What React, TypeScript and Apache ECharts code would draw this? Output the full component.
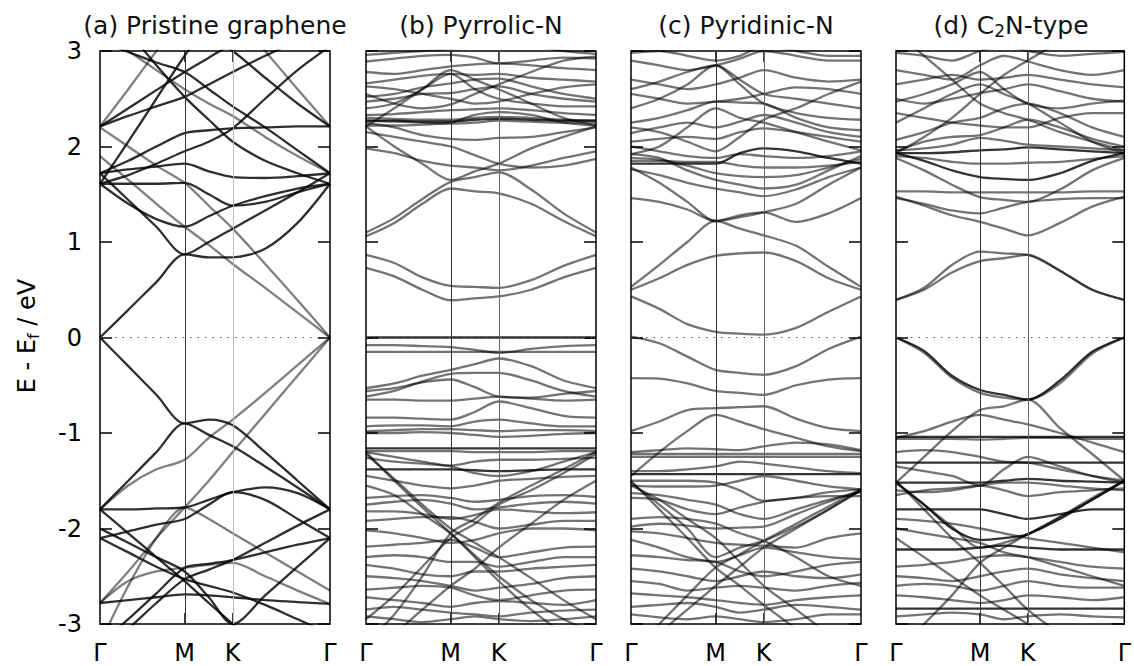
import React, { useEffect, useRef } from "react";
import * as echarts from "echarts";

// k-path sample positions (fraction of Γ-M-K-Γ path length)
const K_POS = [0, 0.123, 0.245, 0.368, 0.473, 0.577, 0.718, 0.859, 1];
const SYM_POS = [0, 0.368, 0.577, 1];
const SYM_LABELS = ["Γ", "M", "K", "Γ"];
const Y_TICKS = [-3, -2, -1, 0, 1, 2, 3];
const TITLES = [
  "{n|(a) Pristine graphene}",
  "{n|(b) Pyrrolic-N}",
  "{n|(c) Pyridinic-N}",
  "{n|(d) C}{s|2}{n|N-type}",
];

// ---------- (a) Pristine graphene ----------
const aDark: number[][] = [
  [0, 0.29, 0.58, 0.87, 0.84, 0.84, 0.93, 1.2, 1.61],
  [1.72, 1.44, 1.16, 0.87, 1.0, 1.14, 1.33, 1.52, 1.72],
  [1.61, 1.4, 1.24, 1.16, 1.27, 1.38, 1.48, 1.56, 1.61],
  [1.61, 1.61, 1.61, 1.62, 1.5, 1.38, 1.42, 1.52, 1.61],
  [1.72, 1.76, 1.79, 1.82, 1.74, 1.68, 1.67, 1.69, 1.72],
  [1.72, 1.85, 2.0, 2.14, 2.17, 2.19, 2.2, 2.21, 2.21],
  [2.21, 2.4, 2.59, 2.78, 2.93, 3.08, 3.3, 3.5, 3.7],
  [3.1, 2.99, 2.88, 2.78, 2.6, 2.42, 2.2, 1.96, 1.72],
  [3.5, 3.2, 2.85, 2.52, 2.28, 2.05, 1.85, 1.72, 1.61],
  [1.61, 2.05, 2.5, 2.95, 3.3, 3.6, 4.0, 4.4, 4.8],
  [3.9, 3.7, 3.5, 3.3, 3.15, 3.0, 2.72, 2.45, 2.21],
  [2.21, 2.32, 2.42, 2.52, 2.65, 2.78, 2.95, 3.1, 3.2],
  [1.61, 1.7, 1.82, 1.95, 2.05, 2.19, 2.5, 2.8, 3.05],
  [0, -0.3, -0.6, -0.9, -0.86, -0.92, -1.2, -1.5, -1.8],
  [-1.8, -1.5, -1.2, -0.9, -1.02, -1.14, -1.35, -1.57, -1.8],
  [-1.8, -1.8, -1.79, -1.78, -1.7, -1.62, -1.57, -1.63, -1.8],
  [-2.1, -2.03, -1.96, -1.9, -1.75, -1.62, -1.7, -1.9, -2.1],
  [-1.8, -2.05, -2.3, -2.55, -2.78, -3.0, -3.3, -3.6, -3.9],
  [-3.3, -3.05, -2.78, -2.53, -2.43, -2.33, -2.15, -1.97, -1.8],
  [-2.1, -2.25, -2.4, -2.53, -2.6, -2.67, -2.8, -2.95, -3.1],
  [-3.2, -2.95, -2.68, -2.41, -2.37, -2.33, -2.25, -2.17, -2.1],
  [-2.78, -2.75, -2.72, -2.69, -2.7, -2.72, -2.75, -2.77, -2.79],
  [-2.0, -2.15, -2.3, -2.45, -2.72, -3.0, -2.7, -2.4, -2.1],
];
const aGrey: number[][] = [
  [1.9, 1.65, 1.4, 1.16, 0.97, 0.77, 0.52, 0.26, 0],
  [2.2, 2.0, 1.8, 1.62, 1.38, 1.14, 0.77, 0.39, 0],
  [2.21, 2.6, 3.0, 3.4, 3.7, 4.0, 4.4, 4.8, 5.0],
  [4.5, 4.3, 4.1, 3.9, 3.6, 3.4, 3.0, 2.6, 2.21],
  [3.2, 3.0, 2.8, 2.6, 2.45, 2.32, 2.1, 1.9, 1.72],
  [-1.8, -1.55, -1.38, -1.28, -1.05, -0.86, -0.58, -0.29, 0],
  [-2.78, -2.45, -2.1, -1.78, -1.5, -1.2, -0.8, -0.4, 0],
  [-2.78, -2.55, -2.45, -2.41, -2.38, -2.36, -2.5, -2.65, -2.79],
  [-3.2, -2.6, -2.1, -1.78, -1.9, -2.05, -2.25, -2.45, -2.65],
];

// ---------- (b) Pyrrolic-N ----------
const bBands: number[][] = [
  [0.73, 0.64, 0.5, 0.39, 0.41, 0.43, 0.5, 0.63, 0.73],
  [0.865, 0.78, 0.63, 0.54, 0.53, 0.52, 0.6, 0.75, 0.865],
  [1.1, 1.25, 1.45, 1.63, 1.68, 1.73, 1.55, 1.3, 1.1],
  [1.06, 1.2, 1.4, 1.56, 1.53, 1.51, 1.4, 1.22, 1.06],
  [2.21, 2.0, 1.82, 1.65, 1.74, 1.82, 1.98, 2.1, 2.21],
  [2.15, 2.1, 2.05, 2.0, 1.91, 1.82, 1.78, 1.8, 1.87],
  [2.25, 2.2, 2.12, 2.08, 2.07, 2.09, 2.1, 2.15, 2.2],
  [1.98, 1.93, 1.85, 1.8, 1.78, 1.75, 1.8, 1.88, 1.95],
  [2.3, 2.29, 2.28, 2.28, 2.3, 2.31, 2.3, 2.28, 2.27],
  [2.27, 2.26, 2.25, 2.24, 2.25, 2.27, 2.26, 2.25, 2.25],
  [2.22, 2.22, 2.23, 2.25, 2.33, 2.36, 2.33, 2.25, 2.22],
  [2.33, 2.34, 2.36, 2.38, 2.39, 2.4, 2.38, 2.35, 2.33],
  [2.47, 2.5, 2.55, 2.56, 2.6, 2.63, 2.55, 2.5, 2.47],
  [2.52, 2.55, 2.62, 2.66, 2.7, 2.71, 2.63, 2.55, 2.5],
  [2.63, 2.6, 2.55, 2.5, 2.45, 2.47, 2.55, 2.62, 2.65],
  [2.66, 2.7, 2.74, 2.76, 2.75, 2.76, 2.72, 2.7, 2.68],
  [2.78, 2.76, 2.8, 2.84, 2.86, 2.87, 2.85, 2.82, 2.8],
  [2.89, 2.92, 2.95, 2.96, 2.93, 2.87, 2.9, 2.93, 2.92],
  [2.96, 2.98, 3.0, 3.02, 3.05, 3.1, 3.05, 3.0, 2.97],
  [2.4, 2.45, 2.6, 2.76, 2.6, 2.5, 2.45, 2.42, 2.42],
  [2.55, 2.45, 2.4, 2.44, 2.55, 2.65, 2.78, 2.9, 2.94],
  [2.21, 2.4, 2.6, 2.8, 2.7, 2.6, 2.45, 2.3, 2.22],
  [-0.08, -0.08, -0.09, -0.1, -0.13, -0.16, -0.12, -0.09, -0.08],
  [-0.15, -0.15, -0.15, -0.15, -0.15, -0.15, -0.15, -0.15, -0.15],
  [-0.53, -0.48, -0.4, -0.34, -0.28, -0.22, -0.3, -0.45, -0.53],
  [-0.56, -0.53, -0.47, -0.44, -0.52, -0.62, -0.63, -0.59, -0.56],
  [-0.62, -0.56, -0.46, -0.38, -0.37, -0.37, -0.45, -0.56, -0.62],
  [-0.65, -0.65, -0.66, -0.66, -0.64, -0.62, -0.64, -0.66, -0.65],
  [-0.84, -0.84, -0.85, -0.86, -0.78, -0.67, -0.74, -0.82, -0.84],
  [-0.93, -0.92, -0.92, -0.93, -0.88, -0.86, -0.9, -0.93, -0.93],
  [-0.98, -0.97, -0.96, -0.96, -0.97, -0.98, -0.97, -0.97, -0.98],
  [-1.0, -1.0, -0.99, -1.0, -1.02, -1.04, -1.03, -1.01, -1.0],
  [-1.19, -1.19, -1.19, -1.19, -1.2, -1.2, -1.2, -1.19, -1.19],
  [-1.2, -1.25, -1.3, -1.35, -1.42, -1.45, -1.4, -1.3, -1.2],
  [-1.2, -1.5, -1.78, -2.05, -2.28, -2.5, -2.75, -2.95, -3.1],
  [-3.2, -2.9, -2.5, -2.05, -1.9, -1.73, -1.55, -1.38, -1.2],
  [-1.22, -1.48, -1.75, -2.0, -2.15, -2.3, -2.52, -2.75, -2.95],
  [-2.95, -2.7, -2.4, -2.1, -1.95, -1.75, -1.6, -1.42, -1.22],
  [-1.68, -1.66, -1.65, -1.68, -1.72, -1.7, -1.66, -1.65, -1.67],
  [-1.75, -1.72, -1.7, -1.74, -1.8, -1.78, -1.74, -1.72, -1.74],
  [-1.82, -1.82, -1.85, -1.9, -1.86, -1.8, -1.82, -1.84, -1.83],
  [-1.92, -1.9, -1.88, -1.88, -1.93, -2.0, -1.96, -1.92, -1.92],
  [-2.02, -2.05, -2.1, -2.15, -2.12, -2.05, -2.0, -2.0, -2.02],
  [-2.19, -2.17, -2.15, -2.12, -2.2, -2.3, -2.25, -2.2, -2.19],
  [-2.3, -2.28, -2.3, -2.35, -2.35, -2.4, -2.35, -2.3, -2.3],
  [-2.38, -2.42, -2.48, -2.5, -2.45, -2.45, -2.42, -2.4, -2.38],
  [-2.5, -2.52, -2.55, -2.6, -2.65, -2.62, -2.58, -2.52, -2.5],
  [-2.64, -2.62, -2.6, -2.62, -2.7, -2.75, -2.7, -2.65, -2.64],
  [-2.72, -2.75, -2.78, -2.82, -2.78, -2.76, -2.78, -2.8, -2.75],
  [-2.85, -2.82, -2.85, -2.88, -2.9, -2.92, -2.88, -2.86, -2.85],
  [-2.92, -2.95, -2.98, -2.95, -2.92, -2.95, -2.97, -2.95, -2.92],
  [-1.55, -1.65, -1.85, -2.05, -2.3, -2.55, -2.85, -3.1, -3.3],
  [-3.3, -3.1, -2.85, -2.6, -2.42, -2.2, -1.95, -1.7, -1.5],
  [-1.26, -1.3, -1.32, -1.34, -1.3, -1.28, -1.28, -1.27, -1.26],
  [-1.45, -1.5, -1.55, -1.58, -1.55, -1.5, -1.48, -1.46, -1.45],
];
const bDark: number[][] = [
  [0, 0, 0, 0, 0, 0, 0, 0, 0],
  [-1.16, -1.16, -1.16, -1.16, -1.16, -1.16, -1.16, -1.16, -1.16],
  [-1.38, -1.38, -1.38, -1.38, -1.39, -1.4, -1.39, -1.38, -1.38],
  [2.27, 2.27, 2.26, 2.26, 2.28, 2.29, 2.28, 2.27, 2.27],
];

// ---------- (c) Pyridinic-N ----------
const cBands: number[][] = [
  [0.43, 0.3, 0.14, 0.06, 0.04, 0.03, 0.1, 0.27, 0.43],
  [0.5, 0.62, 0.76, 0.855, 0.88, 0.89, 0.8, 0.62, 0.5],
  [0.53, 0.76, 1.0, 1.22, 1.14, 1.07, 0.96, 0.74, 0.53],
  [1.46, 1.42, 1.34, 1.22, 1.28, 1.31, 1.21, 1.3, 1.46],
  [1.78, 1.62, 1.42, 1.22, 1.26, 1.31, 1.4, 1.6, 1.78],
  [1.85, 1.85, 1.84, 1.84, 1.8, 1.78, 1.78, 1.8, 1.84],
  [1.88, 1.86, 1.8, 1.72, 1.69, 1.68, 1.7, 1.78, 1.87],
  [1.92, 1.88, 1.75, 1.65, 1.6, 1.56, 1.6, 1.75, 1.9],
  [1.76, 1.7, 1.62, 1.56, 1.52, 1.48, 1.55, 1.68, 1.78],
  [2.0, 1.95, 1.9, 1.88, 1.92, 1.9, 1.88, 1.9, 1.95],
  [2.05, 2.08, 2.1, 2.08, 2.15, 2.19, 2.15, 2.1, 2.05],
  [2.14, 2.2, 2.25, 2.2, 2.26, 2.33, 2.25, 2.15, 2.1],
  [2.25, 2.3, 2.38, 2.47, 2.46, 2.45, 2.3, 2.2, 2.17],
  [2.4, 2.5, 2.65, 2.85, 2.65, 2.45, 2.35, 2.3, 2.28],
  [2.6, 2.68, 2.78, 2.85, 2.7, 2.55, 2.5, 2.45, 2.4],
  [2.55, 2.5, 2.45, 2.47, 2.5, 2.55, 2.62, 2.6, 2.55],
  [2.7, 2.65, 2.6, 2.65, 2.72, 2.8, 2.72, 2.68, 2.7],
  [2.9, 2.85, 2.8, 2.85, 2.92, 3.0, 2.95, 2.9, 2.9],
  [2.98, 3.0, 2.95, 2.9, 2.95, 3.05, 3.0, 2.95, 2.95],
  [1.92, 2.0, 2.2, 2.4, 2.3, 2.25, 2.15, 2.05, 1.96],
  [2.2, 2.15, 2.05, 1.95, 2.1, 2.28, 2.4, 2.55, 2.68],
  [0.01, -0.06, -0.2, -0.34, -0.37, -0.39, -0.3, -0.12, 0.01],
  [-0.425, -0.43, -0.48, -0.56, -0.58, -0.6, -0.5, -0.44, -0.425],
  [-0.98, -0.88, -0.76, -0.74, -0.73, -0.72, -0.85, -0.95, -0.98],
  [-1.45, -1.2, -0.98, -0.81, -0.88, -0.96, -1.05, -1.14, -1.19],
  [-1.22, -1.22, -1.22, -1.22, -1.22, -1.22, -1.22, -1.22, -1.22],
  [-1.25, -1.25, -1.25, -1.25, -1.25, -1.25, -1.25, -1.25, -1.25],
  [-1.2, -1.18, -1.16, -1.17, -1.18, -1.14, -1.1, -1.12, -1.18],
  [-1.5, -1.5, -1.5, -1.52, -1.6, -1.71, -1.68, -1.62, -1.59],
  [-1.55, -1.56, -1.56, -1.55, -1.5, -1.45, -1.5, -1.56, -1.59],
  [-1.5, -1.8, -2.1, -2.41, -2.6, -2.8, -3.05, -3.3, -3.5],
  [-3.3, -3.0, -2.7, -2.41, -2.27, -2.13, -1.95, -1.77, -1.59],
  [-1.52, -1.75, -2.0, -2.3, -2.2, -2.13, -1.98, -1.8, -1.6],
  [-1.98, -1.95, -1.97, -2.0, -1.99, -1.98, -1.85, -1.72, -1.6],
  [-2.03, -2.05, -2.1, -2.15, -2.17, -2.18, -2.2, -2.1, -2.05],
  [-2.12, -2.2, -2.3, -2.35, -2.28, -2.2, -2.25, -2.3, -2.32],
  [-2.28, -2.3, -2.33, -2.35, -2.45, -2.5, -2.45, -2.38, -2.35],
  [-2.42, -2.45, -2.5, -2.55, -2.5, -2.45, -2.5, -2.52, -2.48],
  [-2.55, -2.58, -2.65, -2.62, -2.6, -2.62, -2.65, -2.6, -2.57],
  [-2.68, -2.7, -2.72, -2.75, -2.78, -2.8, -2.75, -2.72, -2.7],
  [-2.82, -2.8, -2.78, -2.82, -2.88, -2.85, -2.8, -2.82, -2.85],
  [-2.9, -2.93, -2.95, -2.92, -2.95, -2.98, -2.95, -2.9, -2.9],
  [-1.63, -1.65, -1.7, -1.75, -1.85, -1.9, -1.8, -1.7, -1.62],
  [-1.68, -1.7, -1.8, -1.85, -1.78, -1.72, -1.68, -1.66, -1.66],
  [-1.55, -1.7, -1.9, -2.1, -2.35, -2.6, -2.85, -3.1, -3.3],
  [-3.4, -3.1, -2.85, -2.6, -2.4, -2.2, -2.0, -1.8, -1.6],
  [-1.9, -1.88, -1.9, -1.95, -2.05, -2.13, -2.3, -2.5, -2.6],
  [-1.4, -1.4, -1.38, -1.35, -1.3, -1.32, -1.36, -1.4, -1.42],
];
const cDark: number[][] = [
  [1.82, 1.82, 1.82, 1.82, 1.93, 1.98, 1.95, 1.88, 1.82],
  [-1.43, -1.43, -1.43, -1.43, -1.43, -1.43, -1.43, -1.43, -1.43],
];

// ---------- (d) C2N-type ----------
const dBands: number[][] = [
  [0.394, 0.52, 0.76, 0.9, 0.88, 0.865, 0.7, 0.5, 0.394],
  [0.394, 0.5, 0.68, 0.8, 0.83, 0.865, 0.7, 0.5, 0.394],
  [1.475, 1.38, 1.28, 1.21, 1.14, 1.07, 1.2, 1.37, 1.475],
  [1.46, 1.4, 1.33, 1.3, 1.36, 1.42, 1.45, 1.46, 1.46],
  [1.53, 1.53, 1.52, 1.52, 1.52, 1.52, 1.52, 1.53, 1.53],
  [1.88, 1.75, 1.6, 1.47, 1.44, 1.42, 1.55, 1.75, 1.88],
  [1.9, 1.88, 1.84, 1.82, 1.82, 1.83, 1.84, 1.87, 1.9],
  [1.96, 1.98, 2.02, 2.09, 2.06, 2.02, 2.0, 1.98, 1.96],
  [1.95, 2.05, 2.1, 2.12, 2.2, 2.28, 2.2, 2.08, 2.0],
  [2.07, 2.15, 2.25, 2.3, 2.4, 2.45, 2.35, 2.2, 2.1],
  [2.35, 2.3, 2.25, 2.22, 2.2, 2.2, 2.3, 2.35, 2.35],
  [2.47, 2.55, 2.65, 2.78, 2.6, 2.45, 2.4, 2.45, 2.48],
  [2.5, 2.45, 2.5, 2.56, 2.6, 2.65, 2.58, 2.5, 2.47],
  [2.65, 2.7, 2.75, 2.7, 2.72, 2.75, 2.7, 2.65, 2.62],
  [2.8, 2.75, 2.7, 2.85, 2.95, 2.89, 2.8, 2.75, 2.8],
  [2.98, 2.95, 2.9, 3.0, 3.05, 3.0, 2.95, 2.97, 2.99],
  [2.25, 2.4, 2.55, 2.65, 2.55, 2.45, 2.25, 2.05, 1.93],
  [1.93, 2.1, 2.3, 2.55, 2.75, 2.9, 3.1, 3.3, 3.4],
  [3.2, 2.95, 2.7, 2.45, 2.35, 2.28, 2.15, 2.05, 1.96],
  [0, -0.16, -0.42, -0.58, -0.63, -0.65, -0.48, -0.17, 0],
  [-1.52, -1.25, -0.98, -0.76, -0.72, -0.65, -0.95, -1.22, -1.5],
  [-1.05, -0.98, -0.88, -0.81, -0.86, -0.91, -1.0, -1.1, -1.2],
  [-1.06, -1.06, -1.06, -1.07, -1.06, -1.05, -1.05, -1.06, -1.06],
  [-1.52, -1.75, -1.98, -2.2, -2.15, -2.06, -1.88, -1.68, -1.5],
  [-1.6, -1.62, -1.6, -1.55, -1.52, -1.52, -1.55, -1.58, -1.6],
  [-1.65, -1.6, -1.58, -1.55, -1.6, -1.66, -1.62, -1.6, -1.58],
  [-1.35, -1.4, -1.45, -1.55, -1.38, -1.25, -1.35, -1.45, -1.52],
  [-1.2, -1.18, -1.2, -1.25, -1.3, -1.31, -1.38, -1.45, -1.5],
  [-1.5, -1.8, -2.1, -2.36, -2.6, -2.85, -3.1, -3.3, -3.5],
  [-3.3, -3.0, -2.7, -2.36, -2.2, -2.06, -1.88, -1.7, -1.5],
  [-2.4, -2.38, -2.35, -2.3, -2.28, -2.3, -2.35, -2.4, -2.42],
  [-2.5, -2.52, -2.55, -2.5, -2.45, -2.42, -2.48, -2.52, -2.55],
  [-2.6, -2.58, -2.6, -2.65, -2.6, -2.55, -2.6, -2.62, -2.62],
  [-2.7, -2.72, -2.75, -2.78, -2.75, -2.7, -2.72, -2.75, -2.72],
  [-2.92, -2.9, -2.88, -2.9, -2.95, -2.92, -2.9, -2.92, -2.93],
  [-1.9, -1.92, -1.95, -2.0, -2.05, -2.1, -2.15, -2.2, -2.25],
  [-2.1, -2.3, -2.5, -2.7, -2.85, -3.0, -3.2, -3.4, -3.6],
  [-2.0, -2.05, -2.1, -2.15, -2.25, -2.3, -2.4, -2.5, -2.6],
];
const dDark: number[][] = [
  [1.93, 1.85, 1.75, 1.68, 1.66, 1.65, 1.72, 1.85, 1.93],
  [1.93, 1.93, 1.94, 1.96, 1.97, 1.99, 1.97, 1.95, 1.93],
  [0, -0.14, -0.4, -0.55, -0.6, -0.65, -0.45, -0.15, 0],
  [-1.04, -1.04, -1.04, -1.04, -1.04, -1.04, -1.04, -1.04, -1.04],
  [-1.31, -1.31, -1.31, -1.31, -1.31, -1.31, -1.31, -1.31, -1.31],
  [-1.52, -1.52, -1.52, -1.52, -1.5, -1.48, -1.5, -1.51, -1.52],
  [-1.8, -1.8, -1.8, -1.8, -1.85, -1.9, -1.85, -1.8, -1.8],
  [-1.52, -1.75, -2.0, -2.12, -2.1, -2.06, -1.9, -1.7, -1.5],
  [-2.22, -2.22, -2.22, -2.2, -2.18, -2.2, -2.22, -2.22, -2.22],
  [-2.84, -2.84, -2.84, -2.84, -2.84, -2.84, -2.84, -2.84, -2.84],
];

const PANELS = [
  { light: aGrey, dark: aDark, lightColor: "rgba(0,0,0,0.5)", darkColor: "rgba(0,0,0,0.82)", kLine: "#bbbbbb" },
  { light: bBands, dark: bDark, lightColor: "rgba(0,0,0,0.55)", darkColor: "rgba(0,0,0,0.8)", kLine: "#666666" },
  { light: cBands, dark: cDark, lightColor: "rgba(0,0,0,0.55)", darkColor: "rgba(0,0,0,0.8)", kLine: "#666666" },
  { light: dBands, dark: dDark, lightColor: "rgba(0,0,0,0.55)", darkColor: "rgba(0,0,0,0.8)", kLine: "#666666" },
];

const FONT = "DejaVu Sans";
const GRID_LEFT = [100, 366, 631, 896];
const GRID_W = 230;
const GRID_TOP = 51;
const GRID_H = 573;

function labelFor(v: number): string {
  let best = 0;
  SYM_POS.forEach((p, i) => {
    if (Math.abs(p - v) < Math.abs(SYM_POS[best] - v)) best = i;
  });
  return SYM_LABELS[best];
}

export default function App() {
  const ref = useRef<HTMLDivElement>(null);
  useEffect(() => {
    if (!ref.current) return;
    const chart = echarts.init(ref.current, null, { renderer: "svg" });
    const grids: any[] = [];
    const xAxes: any[] = [];
    const yAxes: any[] = [];
    const series: any[] = [];
    const graphics: any[] = [];

    PANELS.forEach((p, i) => {
      grids.push({
        left: GRID_LEFT[i],
        top: GRID_TOP,
        width: GRID_W,
        height: GRID_H,
        show: true,
        borderColor: "#000",
        borderWidth: 1.5,
        backgroundColor: "transparent",
      });
      const tickX = {
        show: true,
        inside: true,
        length: 11,
        customValues: [SYM_POS[1], SYM_POS[2]],
        lineStyle: { color: "#000", width: 1.5 },
      };
      xAxes.push({
        type: "value",
        gridIndex: i,
        min: 0,
        max: 1,
        position: "bottom",
        axisLine: { show: false, onZero: false },
        axisTick: tickX,
        splitLine: { show: false },
        axisLabel: {
          show: true,
          customValues: SYM_POS,
          showMinLabel: true,
          showMaxLabel: true,
          formatter: (v: number) => labelFor(v),
          fontSize: 24,
          fontFamily: FONT,
          color: "#000",
          margin: 17,
        },
      });
      xAxes.push({
        type: "value",
        gridIndex: i,
        min: 0,
        max: 1,
        position: "top",
        axisLine: { show: false, onZero: false },
        axisTick: tickX,
        splitLine: { show: false },
        axisLabel: { show: false },
      });
      const tickY = { show: true, inside: true, length: 12, lineStyle: { color: "#000", width: 1.5 } };
      yAxes.push({
        type: "value",
        gridIndex: i,
        min: Y_TICKS[0],
        max: Y_TICKS[Y_TICKS.length - 1],
        interval: 1,
        position: "left",
        axisLine: { show: false, onZero: false },
        axisTick: tickY,
        splitLine: { show: false },
        axisLabel: {
          show: i === 0,
          fontSize: 24,
          fontFamily: FONT,
          color: "#000",
          margin: 18,
        },
      });
      yAxes.push({
        type: "value",
        gridIndex: i,
        min: Y_TICKS[0],
        max: Y_TICKS[Y_TICKS.length - 1],
        interval: 1,
        position: "right",
        axisLine: { show: false, onZero: false },
        axisTick: tickY,
        splitLine: { show: false },
        axisLabel: { show: false },
      });

      // reference lines (Fermi level, M and K)
      series.push({
        type: "line",
        xAxisIndex: 2 * i,
        yAxisIndex: 2 * i,
        data: [[0, 0], [1, 0]],
        symbol: "none",
        lineStyle: { width: 0, opacity: 0 },
        silent: true,
        z: 1,
        markLine: {
          silent: true,
          symbol: ["none", "none"],
          label: { show: false },
          animation: false,
          data: [
            { xAxis: SYM_POS[1], lineStyle: { color: "#333", width: 1, type: "solid" } },
            { xAxis: SYM_POS[2], lineStyle: { color: p.kLine, width: 1, type: "solid" } },
            { yAxis: 0, lineStyle: { color: "#555", width: 1, type: [1.5, 6] } },
          ],
        },
      });

      const addBands = (list: number[][], color: string) => {
        list.forEach((band) => {
          series.push({
            type: "line",
            xAxisIndex: 2 * i,
            yAxisIndex: 2 * i,
            data: K_POS.map((k, j) => [k, band[j]]),
            smooth: 0.3,
            symbol: "none",
            clip: true,
            silent: true,
            lineStyle: { color, width: 2.3 },
            z: 3,
          });
        });
      };
      addBands(p.light, p.lightColor);
      addBands(p.dark, p.darkColor);

      graphics.push({
        type: "text",
        x: GRID_LEFT[i] + GRID_W / 2,
        y: 25,
        style: {
          text: TITLES[i],
          align: "center",
          verticalAlign: "middle",
          fill: "#111",
          rich: {
            n: { fontSize: 25, fontFamily: FONT, fill: "#111" },
            s: { fontSize: 17, fontFamily: FONT, fill: "#111", padding: [12, 0, 0, 0] },
          },
        },
      });
    });

    graphics.push({
      type: "text",
      x: 27,
      y: 336,
      rotation: Math.PI / 2,
      style: {
        text: "{n|E - E}{s|f}{n| / eV}",
        align: "center",
        verticalAlign: "middle",
        fill: "#000",
        rich: {
          n: { fontSize: 24, fontFamily: FONT, fill: "#000" },
          s: { fontSize: 16, fontFamily: FONT, fill: "#000", padding: [12, 0, 0, 0] },
        },
      },
    });

    chart.setOption({
      animation: false,
      backgroundColor: "#fff",
      grid: grids,
      xAxis: xAxes,
      yAxis: yAxes,
      series,
      graphic: graphics,
    });
    return () => chart.dispose();
  }, []);
  return (
    <div
      ref={ref}
      style={{ position: "fixed", left: 0, top: 0, width: 1134, height: 666, background: "#fff" }}
    />
  );
}
